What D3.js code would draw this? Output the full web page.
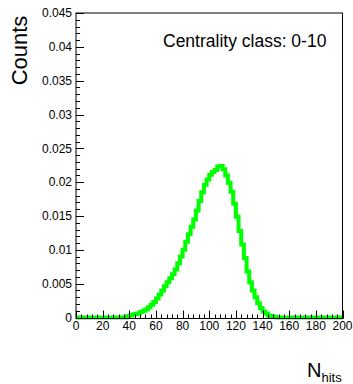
<!DOCTYPE html>
<html>
<head>
<meta charset="utf-8">
<script src="https://cdn.jsdelivr.net/npm/d3@7"></script>
<style>
  html, body { margin: 0; padding: 0; background: #fff; }
  svg { display: block; }
  text { font-family: "Liberation Sans", Arial, Helvetica, sans-serif; fill: #000; }
</style>
</head>
<body>
<svg id="chart" width="353" height="384"></svg>
<script>
// Histogram of hit multiplicity, bins of width 2 from 0 to 200
const binLow = 0;
const binWidth = 2;
const nhitsDensity = [
  0, 0, 0, 0, 0, 0, 0, 0, 0, 0,                                   // 0-18
  0, 0, 0, 0, 0, 0, 0, 0, 0, 0.0002,                              // 20-38
  0.0003, 0.0004, 0.0005, 0.0006, 0.0008, 0.0010, 0.0012, 0.0015, 0.0019, 0.0023, // 40-58
  0.0028, 0.0034, 0.0040, 0.0046, 0.0052, 0.0058, 0.0064, 0.0071, 0.0080, 0.0090, // 60-78
  0.0100, 0.0112, 0.0123, 0.0134, 0.0145, 0.0158, 0.0172, 0.0185, 0.0196, 0.0204, // 80-98
  0.0211, 0.0215, 0.0218, 0.0223, 0.0224, 0.0219, 0.0210, 0.0199, 0.0186, 0.0168, // 100-118
  0.0149, 0.0128, 0.0108, 0.0088, 0.0068, 0.0052, 0.0040, 0.0030, 0.0021, 0.0014, // 120-138
  0.0009, 0.0006, 0.0003, 0.0002, 0.0001, 0, 0, 0, 0, 0,          // 140-158
  0, 0, 0, 0, 0, 0, 0, 0, 0, 0,                                   // 160-178
  0, 0, 0, 0, 0, 0, 0, 0, 0, 0                                    // 180-198
];
const xTickValues = [0, 20, 40, 60, 80, 100, 120, 140, 160, 180, 200];
const yTickValues = [0, 0.005, 0.01, 0.015, 0.02, 0.025, 0.03, 0.035, 0.04, 0.045];
const xDomain = [0, 200];
const yDomain = [0, 0.045];
const yTitle = "Counts";
const xTitleMain = "N";
const xTitleSub = "hits";
const legendText = "Centrality class: 0-10";

const svg = d3.select("#chart");
const frame = { left: 76, right: 342.5, top: 13, bottom: 318.5 };

const x = d3.scaleLinear().domain(xDomain).range([frame.left, frame.right]);
const y = d3.scaleLinear().domain(yDomain).range([frame.bottom - 1, frame.top]);

// step histogram outline
const edges = nhitsDensity.map((v, i) => [binLow + i * binWidth, v]);
edges.push([binLow + nhitsDensity.length * binWidth, nhitsDensity[nhitsDensity.length - 1]]);
const stepLine = d3.line()
  .x(d => x(d[0]))
  .y(d => y(d[1]))
  .curve(d3.curveStepAfter);

svg.append("path")
  .datum(edges)
  .attr("d", stepLine)
  .attr("fill", "none")
  .attr("stroke", "#00ff00")
  .attr("stroke-width", 4)
  .attr("stroke-linejoin", "miter");

// frame box
svg.append("rect")
  .attr("x", frame.left)
  .attr("y", frame.top)
  .attr("width", frame.right - frame.left)
  .attr("height", frame.bottom - frame.top)
  .attr("fill", "none")
  .attr("stroke", "#000")
  .attr("stroke-width", 1);

// minor tick helpers
const xMinor = d3.range(0, 200.001, 4);
const yMinor = d3.range(0, 0.04501, 0.001);

// x axis
const gx = svg.append("g");
gx.selectAll("line.minor").data(xMinor).join("line")
  .attr("x1", d => Math.round(x(d)) + 0.5).attr("x2", d => Math.round(x(d)) + 0.5)
  .attr("y1", frame.bottom).attr("y2", frame.bottom - 4)
  .attr("stroke", "#000").attr("stroke-width", 1);
gx.selectAll("line.major").data(xTickValues).join("line")
  .attr("x1", d => Math.round(x(d)) + 0.5).attr("x2", d => Math.round(x(d)) + 0.5)
  .attr("y1", frame.bottom).attr("y2", frame.bottom - 8)
  .attr("stroke", "#000").attr("stroke-width", 1);
gx.selectAll("text").data(xTickValues).join("text")
  .attr("x", d => x(d))
  .attr("y", 330)
  .attr("text-anchor", "middle")
  .attr("font-size", 12)
  .text(d => d3.format("d")(d));

// y axis
const gy = svg.append("g");
gy.selectAll("line.minor").data(yMinor).join("line")
  .attr("y1", d => Math.round(y(d)) + 0.5).attr("y2", d => Math.round(y(d)) + 0.5)
  .attr("x1", frame.left).attr("x2", frame.left + 4)
  .attr("stroke", "#000").attr("stroke-width", 1);
gy.selectAll("line.major").data(yTickValues).join("line")
  .attr("y1", d => Math.round(y(d)) + 0.5).attr("y2", d => Math.round(y(d)) + 0.5)
  .attr("x1", frame.left).attr("x2", frame.left + 8)
  .attr("stroke", "#000").attr("stroke-width", 1);
gy.selectAll("text").data(yTickValues).join("text")
  .attr("x", 72)
  .attr("y", d => y(d))
  .attr("dy", "0.35em")
  .attr("text-anchor", "end")
  .attr("font-size", 12)
  .text(d => d === 0 ? "0" : String(+d.toFixed(3)));

// axis titles
svg.append("text")
  .attr("transform", "translate(27,50.5) rotate(-90)")
  .attr("text-anchor", "middle")
  .attr("font-size", 22)
  .text(yTitle);

const xt = svg.append("text").attr("x", 307).attr("y", 377).attr("font-size", 20);
xt.append("tspan").text(xTitleMain);
xt.append("tspan").attr("font-size", 13).attr("dy", 5).text(xTitleSub);

// legend text
svg.append("text")
  .attr("x", 163)
  .attr("y", 47)
  .attr("font-size", 17.5)
  .text(legendText);
</script>
</body>
</html>
